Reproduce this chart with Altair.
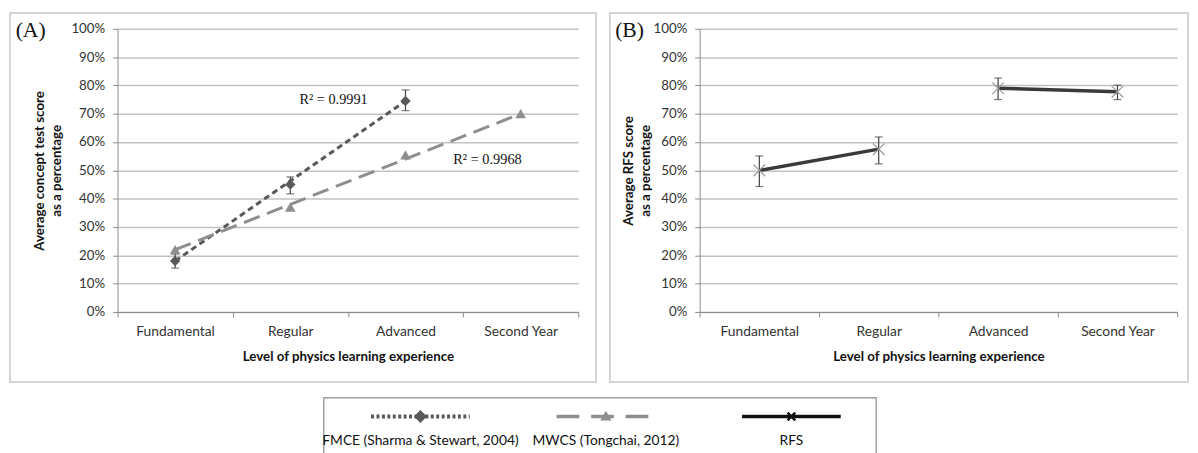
import json
import altair as alt
import pandas as pd

# ---------------- data ----------------
levels = ["Fundamental", "Regular", "Advanced", "Second Year"]

fmce_levels = ["Fundamental", "Regular", "Advanced"]
fmce_score = [0.18, 0.45, 0.745]
fmce_lo = [0.155, 0.417, 0.711]
fmce_hi = [0.205, 0.477, 0.784]

mwcs_levels = ["Fundamental", "Regular", "Advanced", "Second Year"]
mwcs_score = [0.22, 0.37, 0.555, 0.70]

rfs_levels = ["Fundamental", "Regular", "Advanced", "Second Year"]
rfs_score = [0.50, 0.575, 0.79, 0.778]
rfs_lo = [0.443, 0.523, 0.750, 0.750]
rfs_hi = [0.551, 0.618, 0.826, 0.801]
rfs_segment = ["first", "first", "second", "second"]

series_names = ["FMCE (Sharma & Stewart, 2004)", "MWCS (Tongchai, 2012)", "RFS"]
r2_labels = ["R\u00b2 = 0.9991", "R\u00b2 = 0.9968"]

y_ticks = [0, 0.1, 0.2, 0.3, 0.4, 0.5, 0.6, 0.7, 0.8, 0.9, 1.0]

# ---------------- tables ----------------
fmce_df = pd.DataFrame({"series": series_names[0], "level": fmce_levels,
                        "score": fmce_score, "lo": fmce_lo, "hi": fmce_hi})
mwcs_df = pd.DataFrame({"series": series_names[1], "level": mwcs_levels,
                        "score": mwcs_score})
a_df = pd.concat([fmce_df, mwcs_df], ignore_index=True)
rfs_df = pd.DataFrame({"series": series_names[2], "level": rfs_levels,
                       "score": rfs_score, "lo": rfs_lo, "hi": rfs_hi,
                       "segment": rfs_segment})
leg_df = pd.DataFrame({"series": series_names})
one_row = pd.DataFrame({"k": [0]})

FONT = "Lato"
SERIF = "Liberation Serif"
C_FMCE = "#595959"
C_MWCS = "#8e8e8e"
C_RFS = "#3a3a3a"
C_ERR = "#404040"

color_scale = alt.Scale(domain=series_names, range=[C_FMCE, C_MWCS, C_RFS])
dash_scale = alt.Scale(domain=series_names, range=[[6, 4], [17, 8], [1, 0]])
shape_scale = alt.Scale(domain=series_names, range=["diamond", "triangle-up", "cross"])
size_scale = alt.Scale(domain=series_names, range=[110, 125, 100])

x_scale = alt.Scale(domain=levels, paddingInner=0, paddingOuter=0)
y_scale = alt.Scale(domain=[0, 1])


def x_axis():
    return alt.Axis(title="Level of physics  learning experience", labelAngle=0,
                    tickBand="extent", grid=False, domainColor="#8a8a8a",
                    tickColor="#8a8a8a", tickSize=5, labelPadding=8,
                    labelFontSize=14, labelColor="#333333", labelFont=FONT,
                    titleFont=FONT, titleFontSize=13.5, titleFontWeight="bold",
                    titleColor="#111111", titlePadding=11)


def y_axis(title, pad):
    return alt.Axis(title=title, values=y_ticks, format=".0%", grid=True,
                    gridColor="#c2c2c2", gridWidth=1.5, domainColor="#8a8a8a",
                    tickColor="#8a8a8a", tickSize=5, labelPadding=8,
                    labelFontSize=13.5, labelColor="#333333", labelFont=FONT,
                    titleFont=FONT, titleFontSize=13.5, titleFontWeight="bold",
                    titleColor="#111111", titlePadding=pad, titleLineHeight=18)


A_TITLE = ["Average concept test score", "as a percentage"]
B_TITLE = ["Average RFS score", "as a percentage"]


def X():
    return alt.X("level:N", scale=x_scale, sort=levels, axis=x_axis())


def Y(field, title, pad):
    return alt.Y(field, type="quantitative", scale=y_scale, axis=y_axis(title, pad))


def frame(l, r, t, b, color="#c8c8c8"):
    return alt.Chart(one_row).mark_rect(fillOpacity=0, stroke=color, strokeWidth=1.5).encode(
        x=alt.value(l), x2=alt.value(r), y=alt.value(t), y2=alt.value(b))


def label(text, x, y, size, font=SERIF):
    return alt.Chart(one_row).mark_text(text=text, font=font, fontSize=size, color="#111111",
                                        align="center", baseline="middle").encode(
        x=alt.value(x), y=alt.value(y))


# ---------------- panel A ----------------
A_W, A_H = 467, 287
A_PAD = 7

trend = alt.Chart(a_df).transform_calculate(
    idx="indexof(%s, datum.level)" % json.dumps(levels)
).transform_regression("score", "idx", groupby=["series"]).transform_calculate(
    level="%s[round(datum.idx)]" % json.dumps(levels)
).mark_line(strokeWidth=3).encode(
    x=X(), y=Y("score", A_TITLE, A_PAD),
    color=alt.Color("series:N", scale=color_scale, legend=None),
    strokeDash=alt.StrokeDash("series:N", scale=dash_scale, legend=None),
)

a_err = alt.Chart(fmce_df).mark_rule(color=C_ERR, strokeWidth=1.2).encode(
    x=X(), y=Y("lo", A_TITLE, A_PAD), y2="hi")
a_cap_lo = alt.Chart(fmce_df).mark_tick(color=C_ERR, size=8, thickness=1.2).encode(
    x=X(), y=Y("lo", A_TITLE, A_PAD))
a_cap_hi = alt.Chart(fmce_df).mark_tick(color=C_ERR, size=8, thickness=1.2).encode(
    x=X(), y=Y("hi", A_TITLE, A_PAD))

a_pts = alt.Chart(a_df).mark_point(filled=True, opacity=1).encode(
    x=X(), y=Y("score", A_TITLE, A_PAD),
    color=alt.Color("series:N", scale=color_scale, legend=None),
    shape=alt.Shape("series:N", scale=shape_scale, legend=None),
    size=alt.Size("series:N", scale=size_scale, legend=None),
)

panel_a = alt.layer(
    frame(-109, 485, -16, 358),
    trend, a_err, a_cap_lo, a_cap_hi, a_pts,
    label(r2_labels[0], 219, 72, 14.5),
    label(r2_labels[1], 375, 133, 14.5),
    label("(A)", -88, 1, 22),
).properties(width=A_W, height=A_H)

# ---------------- panel B ----------------
B_W, B_H = 484, 287
B_PAD = 0

b_line = alt.Chart(rfs_df).mark_line(strokeWidth=3.5, color=C_RFS).encode(
    x=X(), y=Y("score", B_TITLE, B_PAD), detail="segment:N")
b_err = alt.Chart(rfs_df).mark_rule(color=C_ERR, strokeWidth=1.2).encode(
    x=X(), y=Y("lo", B_TITLE, B_PAD), y2="hi")
b_cap_lo = alt.Chart(rfs_df).mark_tick(color=C_ERR, size=8, thickness=1.2).encode(
    x=X(), y=Y("lo", B_TITLE, B_PAD))
b_cap_hi = alt.Chart(rfs_df).mark_tick(color=C_ERR, size=8, thickness=1.2).encode(
    x=X(), y=Y("hi", B_TITLE, B_PAD))
b_pts = alt.Chart(rfs_df).mark_point(shape="M-1,-1L1,1M-1,1L1,-1", filled=False, size=140,
                                     strokeWidth=1.2, color="#9a9a9a", opacity=1).encode(
    x=X(), y=Y("score", B_TITLE, B_PAD))

panel_b = alt.layer(
    frame(-91, 495, -16, 358),
    b_line, b_err, b_cap_lo, b_cap_hi, b_pts,
    label("(B)", -71, 1, 22),
).properties(width=B_W, height=B_H)

# ---------------- legend ----------------
# legend view starts at panel A's plot origin; the box sits under both panels
BOX_L, BOX_R = 209, 769
xL = alt.X("series:N", scale=alt.Scale(domain=series_names, paddingInner=0, paddingOuter=0,
                                       range=[213, 777]),
           sort=series_names, axis=None)
leg_dash = {series_names[0]: [3, 2.5], series_names[1]: [23, 12], series_names[2]: [1, 0]}
leg_color = {series_names[0]: C_FMCE, series_names[1]: C_MWCS, series_names[2]: "#111111"}
leg_width = {series_names[0]: 4, series_names[1]: 3.5, series_names[2]: 3.5}
leg_layers = [frame(BOX_L, BOX_R, 0, 60, color="#a0a0a0")]
for s in series_names:
    base = alt.Chart(leg_df).transform_filter(alt.datum.series == s)
    leg_layers.append(base.mark_point(shape="M-1,0L1,0", size=10000, filled=False, opacity=1,
                                      strokeWidth=leg_width[s], strokeDash=leg_dash[s],
                                      color=leg_color[s]).encode(x=xL, y=alt.value(19)))
leg_layers.append(alt.Chart(leg_df).transform_filter(alt.datum.series == series_names[0]).mark_point(
    shape="diamond", filled=True, size=170, opacity=1, color=C_FMCE).encode(x=xL, y=alt.value(19)))
leg_layers.append(alt.Chart(leg_df).transform_filter(alt.datum.series == series_names[1]).mark_point(
    shape="triangle-up", filled=True, size=130, opacity=1, color=C_MWCS).encode(x=xL, y=alt.value(18)))
leg_layers.append(alt.Chart(leg_df).transform_filter(alt.datum.series == series_names[2]).mark_point(
    shape="M-1,-1L1,1M-1,1L1,-1", filled=False, size=60, strokeWidth=2.5, opacity=1,
    color="#111111").encode(x=xL, y=alt.value(19)))
leg_layers.append(alt.Chart(leg_df).mark_text(font=FONT, fontSize=14, color="#111111",
                                              baseline="middle").encode(
    x=xL, y=alt.value(44), text="series:N"))

legend = alt.layer(*leg_layers).properties(width=BOX_R, height=60)

top = alt.hconcat(panel_a, panel_b, spacing=10)
chart = alt.vconcat(top, legend, spacing=12).properties(
    padding=0
).configure(font=FONT, background="white").configure_view(stroke="transparent")

chart.save("out.html", embed_options={"renderer": "svg", "actions": False})
